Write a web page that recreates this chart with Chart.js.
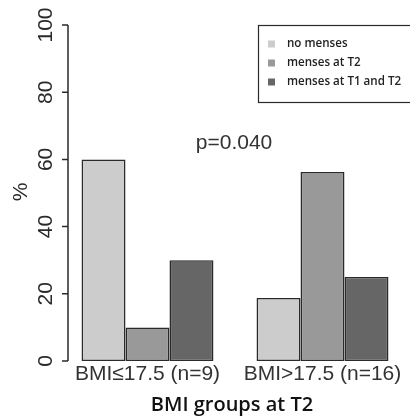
<!DOCTYPE html>
<html>
<head>
<meta charset="utf-8">
<script src="https://cdn.jsdelivr.net/npm/chart.js@4"></script>
<style>
  html, body { margin: 0; padding: 0; background: #fff; overflow: hidden; }
  #wrap { width: 410px; height: 419px; }
</style>
</head>
<body>
<div id="wrap"><canvas id="chart" width="410" height="419"></canvas></div>
<script>
// ── DATA ──
const groups      = ['BMI≤17.5 (n=9)', 'BMI>17.5 (n=16)'];
const seriesNames = ['no menses', 'menses at T2', 'menses at T1 and T2'];
const noMenses    = [60, 18.75];
const mensesT2    = [10, 56.25];
const mensesT1T2  = [30, 25];
const yTicks      = [0, 20, 40, 60, 80, 100];
const pLabel      = 'p=0.040';
const xTitle      = 'BMI groups at T2';

const FILLS = ['#cccccc', '#999999', '#666666'];
const INK   = '#2a2a2a';
const SANS  = '"Liberation Sans", Arial, sans-serif';

// ── R-style axes, legend box and p-value, drawn on the library's scales ──
const decorations = {
  id: 'decorations',
  afterDraw(chart) {
    const { ctx, scales: { x, y } } = chart;
    const axisX = 68;
    ctx.save();
    ctx.strokeStyle = INK;
    ctx.lineWidth = 1.5;
    ctx.beginPath();
    ctx.moveTo(axisX, y.getPixelForValue(yTicks[0]));
    ctx.lineTo(axisX, y.getPixelForValue(yTicks[yTicks.length - 1]));
    yTicks.forEach(v => {
      const py = y.getPixelForValue(v);
      ctx.moveTo(axisX, py);
      ctx.lineTo(axisX - 6, py);
    });
    ctx.stroke();

    ctx.fillStyle = INK;
    ctx.font = '21px ' + SANS;
    ctx.textAlign = 'center';
    ctx.textBaseline = 'middle';
    yTicks.forEach(v => {
      const py = y.getPixelForValue(v);
      ctx.save();
      ctx.translate(46, py);
      ctx.rotate(-Math.PI / 2);
      ctx.fillText(String(v), 0, 0);
      ctx.restore();
    });
    ctx.save();
    ctx.translate(21, 192);
    ctx.rotate(-Math.PI / 2);
    ctx.fillText('%', 0, 0);
    ctx.restore();

    // group labels under each cluster
    ctx.fillStyle = '#333';
    chart.data.labels.forEach((lab, i) => {
      ctx.fillText(lab, x.getPixelForValue(i), y.bottom + 13);
    });

    // x title
    ctx.fillStyle = '#111';
    ctx.font = '600 20px "Open Sans", sans-serif';
    ctx.fillText(xTitle, 232, 405);

    // p-value
    ctx.fillStyle = '#333';
    ctx.font = '21px ' + SANS;
    ctx.fillText(pLabel, 234, 143);

    // legend
    ctx.strokeStyle = INK;
    ctx.lineWidth = 1.2;
    ctx.strokeRect(258.5, 25.5, 160, 77);
    ctx.font = '600 11.6px "Open Sans", sans-serif';
    ctx.textAlign = 'left';
    chart.data.datasets.forEach((ds, i) => {
      const cy = 44 + i * 19;
      ctx.fillStyle = ds.backgroundColor;
      ctx.fillRect(268, cy - 3.5, 7, 7);
      ctx.fillStyle = '#222';
      ctx.fillText(ds.label, 287, cy);
    });
    ctx.restore();
  }
};

new Chart(document.getElementById('chart'), {
  type: 'bar',
  data: {
    labels: groups,
    datasets: [noMenses, mensesT2, mensesT1T2].map((d, i) => ({
      label: seriesNames[i],
      data: d,
      backgroundColor: FILLS[i],
      borderColor: INK,
      borderWidth: 1.6,
      borderSkipped: false,
    }))
  },
  options: {
    responsive: false,
    animation: false,
    layout: { padding: { left: 60, right: 0, top: 25, bottom: 58 } },
    plugins: { legend: { display: false }, tooltip: { enabled: false } },
    datasets: { bar: { categoryPercentage: 0.754, barPercentage: 1 } },
    scales: {
      x: { display: false },
      y: { display: false, min: 0, max: 100 }
    }
  },
  plugins: [decorations]
});
</script>
</body>
</html>
